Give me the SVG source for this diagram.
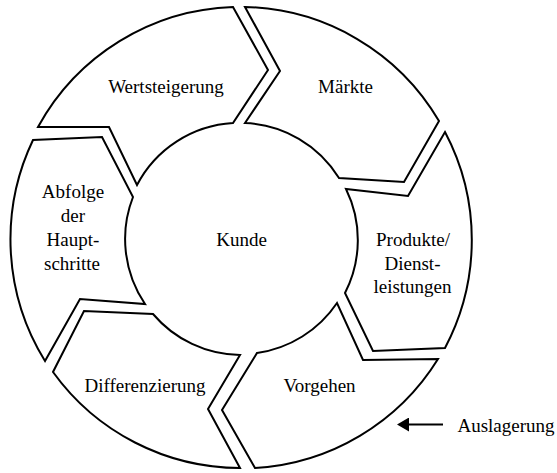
<svg xmlns="http://www.w3.org/2000/svg" width="557" height="473" viewBox="0 0 557 473">
  <style>
    .seg { fill: #ffffff; stroke: #000000; stroke-width: 2; stroke-linejoin: miter; }
    .lbl { font-family: "Liberation Serif", "Times New Roman", serif; font-size: 19px; fill: #000000; text-anchor: middle; }
    .conn { stroke: #000000; stroke-width: 2; fill: none; }
  </style>
  <defs>
    <marker id="arrowhead" markerWidth="6" markerHeight="7" refX="4" refY="3.5" orient="auto" markerUnits="strokeWidth">
      <path d="M0,0 L6,3.5 L0,7 Z" fill="#000000"/>
    </marker>
  </defs>
  <rect width="557" height="473" fill="#ffffff"/>

  <g id="wertsteigerung">
    <path class="seg" d="M38,127 A231,231 0 0 1 233,7 L268,70 L233,123 A116,116 0 0 0 137,185 L109,127 Z"/>
    <text class="lbl" x="166" y="93">Wertsteigerung</text>
  </g>
  <g id="maerkte">
    <path class="seg" d="M245,7 A231,231 0 0 1 439,121 L404,182 L339,178 A116,116 0 0 0 245,123 L280,71 Z"/>
    <text class="lbl" x="345.5" y="93">Märkte</text>
  </g>
  <g id="produkte">
    <path class="seg" d="M445,132 A231,231 0 0 1 445,348 L373,351 L345,293 A116,116 0 0 0 346,189 L408,196 Z"/>
    <text class="lbl" x="413" y="246">Produkte/</text>
    <text class="lbl" x="412.5" y="269.5">Dienst-</text>
    <text class="lbl" x="412.5" y="293">leistungen</text>
  </g>
  <g id="vorgehen">
    <path class="seg" d="M438,359 A231,231 0 0 1 255,468 L222,410 L257,353 A116,116 0 0 0 337,303 L363,360 Z"/>
    <text class="lbl" x="319.5" y="392">Vorgehen</text>
  </g>
  <g id="differenzierung">
    <path class="seg" d="M240,468 A231,231 0 0 1 53,372 L84,311 L153,314 A116,116 0 0 0 240,355 L208,409 Z"/>
    <text class="lbl" x="145" y="392">Differenzierung</text>
  </g>
  <g id="abfolge">
    <path class="seg" d="M45,361 A231,231 0 0 1 33,140 L102,137 L133,197 A116,116 0 0 0 145,304 L80,299 Z"/>
    <text class="lbl" x="73" y="198">Abfolge</text>
    <text class="lbl" x="73" y="222">der</text>
    <text class="lbl" x="73" y="246">Haupt-</text>
    <text class="lbl" x="72" y="269.5">schritte</text>
  </g>
  <g id="kunde">
    <text class="lbl" x="241.5" y="246">Kunde</text>
  </g>
  <g id="auslagerung">
    <text class="lbl" x="506" y="432">Auslagerung</text>
  </g>

  <g id="connectors">
    <line class="conn" x1="443" y1="424.5" x2="401" y2="424.5" marker-end="url(#arrowhead)"/>
  </g>
</svg>
